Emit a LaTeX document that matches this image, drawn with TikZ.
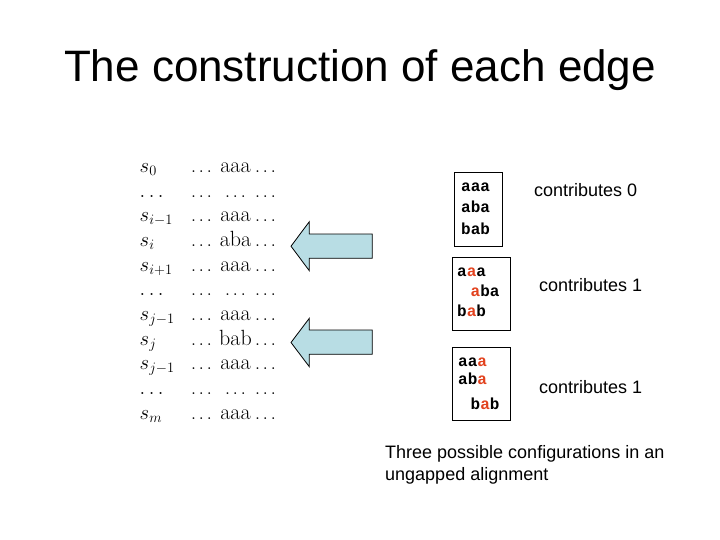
\documentclass[tikz,border=0pt]{standalone}
\usepackage{graphicx}
\usepackage{fontspec}
\newfontfamily\arialf{Liberation Sans}
\newfontfamily\courf{Liberation Mono}
\definecolor{arrowblue}{RGB}{184,221,228}
\definecolor{hired}{RGB}{226,66,30}
\newcommand{\hr}[1]{\textcolor{hired}{#1}}
\newcommand{\sdots}{\scalebox{0.88}{$\ldots$}}
\tikzset{
  lbl/.style={anchor=base west, inner sep=0pt, font=\fontsize{22}{26}\selectfont},
  colm/.style={anchor=base, inner sep=0pt, font=\fontsize{22}{26}\selectfont},
  conf/.style={anchor=base west, inner sep=0pt, font=\courf\bfseries\fontsize{16}{18}\selectfont},
  cbox/.style={draw=black, line width=0.8pt, inner sep=0pt},
  sanstxt/.style={anchor=base west, inner sep=0pt, font=\arialf\fontsize{18}{22}\selectfont},
  barrow/.style={draw=black, line width=0.8pt, fill=arrowblue, line join=miter},
}
\begin{document}
\begin{tikzpicture}[x=1pt,y=-1pt]
\useasboundingbox (0,0) rectangle (720,540);
% title
\node[anchor=base, inner sep=0pt, font=\arialf\fontsize{44}{50}\selectfont] (title) at (360,82) {The construction of each edge};
% left column
\foreach \lab/\mid [count=\k from 0] in {{s_0}/aaa, {\ldots}/{\sdots}, {s_{i-1}}/aaa, {s_i}/aba, {s_{i+1}}/aaa, {\ldots}/{\sdots}, {s_{j-1}}/aaa, {s_j}/bab, {s_{j-1}}/aaa, {\ldots}/{\sdots}, {s_m}/aaa}{
  \pgfmathsetmacro{\yy}{172.5+24.65*\k}
  \node[lbl] (lab\k) at (139.5,\yy) {$\lab$};
  \node[colm] (ld\k) at (201.5,\yy) {\sdots};
  \node[colm] (md\k) at (235.5,\yy) {\mid};
  \node[colm] (rd\k) at (265.5,\yy) {\sdots};
}
% arrows
\draw[barrow] (291,246.2) -- (309.3,221.7) -- (309.3,234) -- (372.3,234) -- (372.3,258.3) -- (309.3,258.3) -- (309.3,270.7) -- cycle;
\draw[barrow] (291,342.5) -- (309.3,318.3) -- (309.3,330) -- (372.3,330) -- (372.3,354.3) -- (309.3,354.3) -- (309.3,366.7) -- cycle;
% boxes
\node[cbox, minimum width=48.7pt, minimum height=73.3pt] (box1) at (478.35,209.35) {};
\node[cbox, minimum width=57.3pt, minimum height=73.4pt] (box2) at (481.35,294) {};
\node[cbox, minimum width=58pt, minimum height=72.7pt] (box3) at (481.7,383.65) {};
% box 1
\node[conf] (b1a) at (461,191.7) {aaa};
\node[conf] (b1b) at (461,212.7) {aba};
\node[conf] (b1c) at (461,234) {bab};
% box 2
\node[conf] (b2a) at (457,276.7) {a\hr{a}a};
\node[conf] (b2b) at (470.5,296.7) {\hr{a}ba};
\node[conf] (b2c) at (457,316.7) {b\hr{a}b};
% box 3
\node[conf] (b3a) at (458,366.7) {aa\hr{a}};
\node[conf] (b3b) at (458,384.3) {ab\hr{a}};
\node[conf] (b3c) at (470.5,409.3) {b\hr{a}b};
% labels
\node[sanstxt] (c0) at (534,196.7) {contributes 0};
\node[sanstxt] (c1) at (539,291.8) {contributes 1};
\node[sanstxt] (c2) at (539,393.3) {contributes 1};
\node[sanstxt] (n1) at (385,458.3) {Three possible configurations in an};
\node[sanstxt] (n2) at (385,480.3) {ungapped alignment};
\end{tikzpicture}
\end{document}
